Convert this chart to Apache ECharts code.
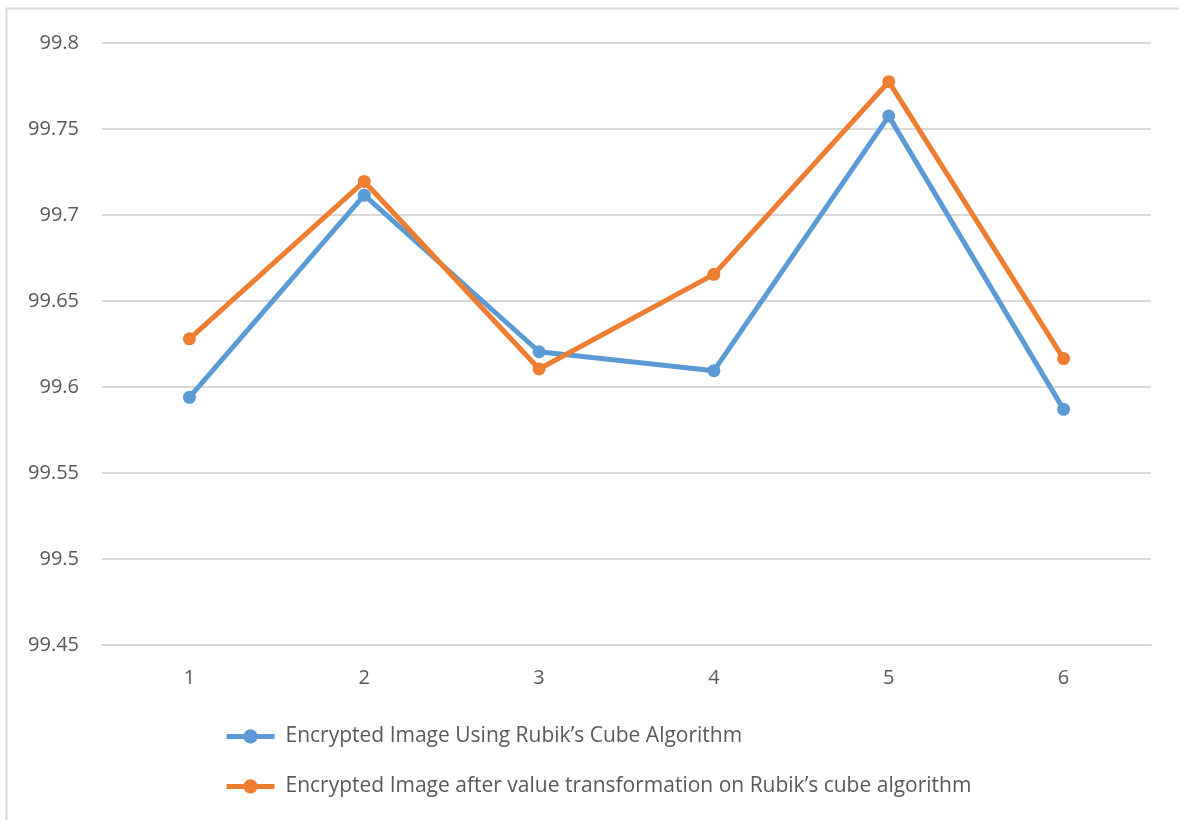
<!DOCTYPE html>
<html>
<head>
<meta charset="utf-8">
<script src="https://cdn.jsdelivr.net/npm/echarts@6/dist/echarts.min.js"></script>
<style>
  html, body { margin: 0; padding: 0; background: #fff; }
  #chart { width: 1179px; height: 820px; }
</style>
</head>
<body>
<div id="chart"></div>
<script>
// Test image indices along the x axis
const categories = ['1', '2', '3', '4', '5', '6'];

// Percentage values for each encryption variant
const rubikValues = [99.594, 99.7115, 99.6205, 99.6095, 99.7575, 99.587];
const transformedValues = [99.628, 99.7195, 99.6105, 99.6655, 99.7775, 99.6165];

const seriesNames = [
  'Encrypted Image Using Rubik\u2019s Cube Algorithm',
  'Encrypted Image after value transformation on Rubik\u2019s cube algorithm'
];

const FONT = '"Open Sans", "Liberation Sans", sans-serif';
const TEXT = '#595959';
const GRID = '#D9D9D9';

const chart = echarts.init(document.getElementById('chart'));

chart.setOption({
  backgroundColor: '#fff',
  animation: false,
  graphic: [{
    type: 'rect',
    shape: { x: 6.5, y: 8.5, width: 1300, height: 900 },
    style: { fill: 'none', stroke: GRID, lineWidth: 2 },
    silent: true
  }],
  grid: { left: 102, right: 28, top: 43, bottom: 175, containLabel: false },
  legend: {
    orient: 'vertical',
    left: 219,
    top: 721,
    itemWidth: 48,
    itemHeight: 18,
    itemGap: 29,
    lineStyle: { width: 5 },
    textStyle: { color: TEXT, fontFamily: FONT, fontSize: 21, padding: [0, 0, 0, 6] },
    data: seriesNames
  },
  xAxis: {
    type: 'category',
    data: categories,
    boundaryGap: true,
    axisLine: { show: true, lineStyle: { color: GRID, width: 2 } },
    axisTick: { show: false },
    axisLabel: { color: TEXT, fontFamily: FONT, fontSize: 20, margin: 23 }
  },
  yAxis: {
    type: 'value',
    min: 99.45,
    max: 99.8,
    interval: 0.05,
    axisLine: { show: false },
    axisTick: { show: false },
    splitLine: { lineStyle: { color: GRID, width: 2 } },
    axisLabel: {
      color: TEXT, fontFamily: FONT, fontSize: 20, margin: 23,
      formatter: v => String(+v.toFixed(2))
    }
  },
  series: [
    {
      name: seriesNames[0],
      type: 'line',
      data: rubikValues,
      symbol: 'circle',
      symbolSize: 13,
      color: '#5B9BD5',
      lineStyle: { width: 5, color: '#5B9BD5' },
      itemStyle: { color: '#5B9BD5' }
    },
    {
      name: seriesNames[1],
      type: 'line',
      data: transformedValues,
      symbol: 'circle',
      symbolSize: 13,
      color: '#ED7D31',
      lineStyle: { width: 5, color: '#ED7D31' },
      itemStyle: { color: '#ED7D31' }
    }
  ]
});
</script>
</body>
</html>
